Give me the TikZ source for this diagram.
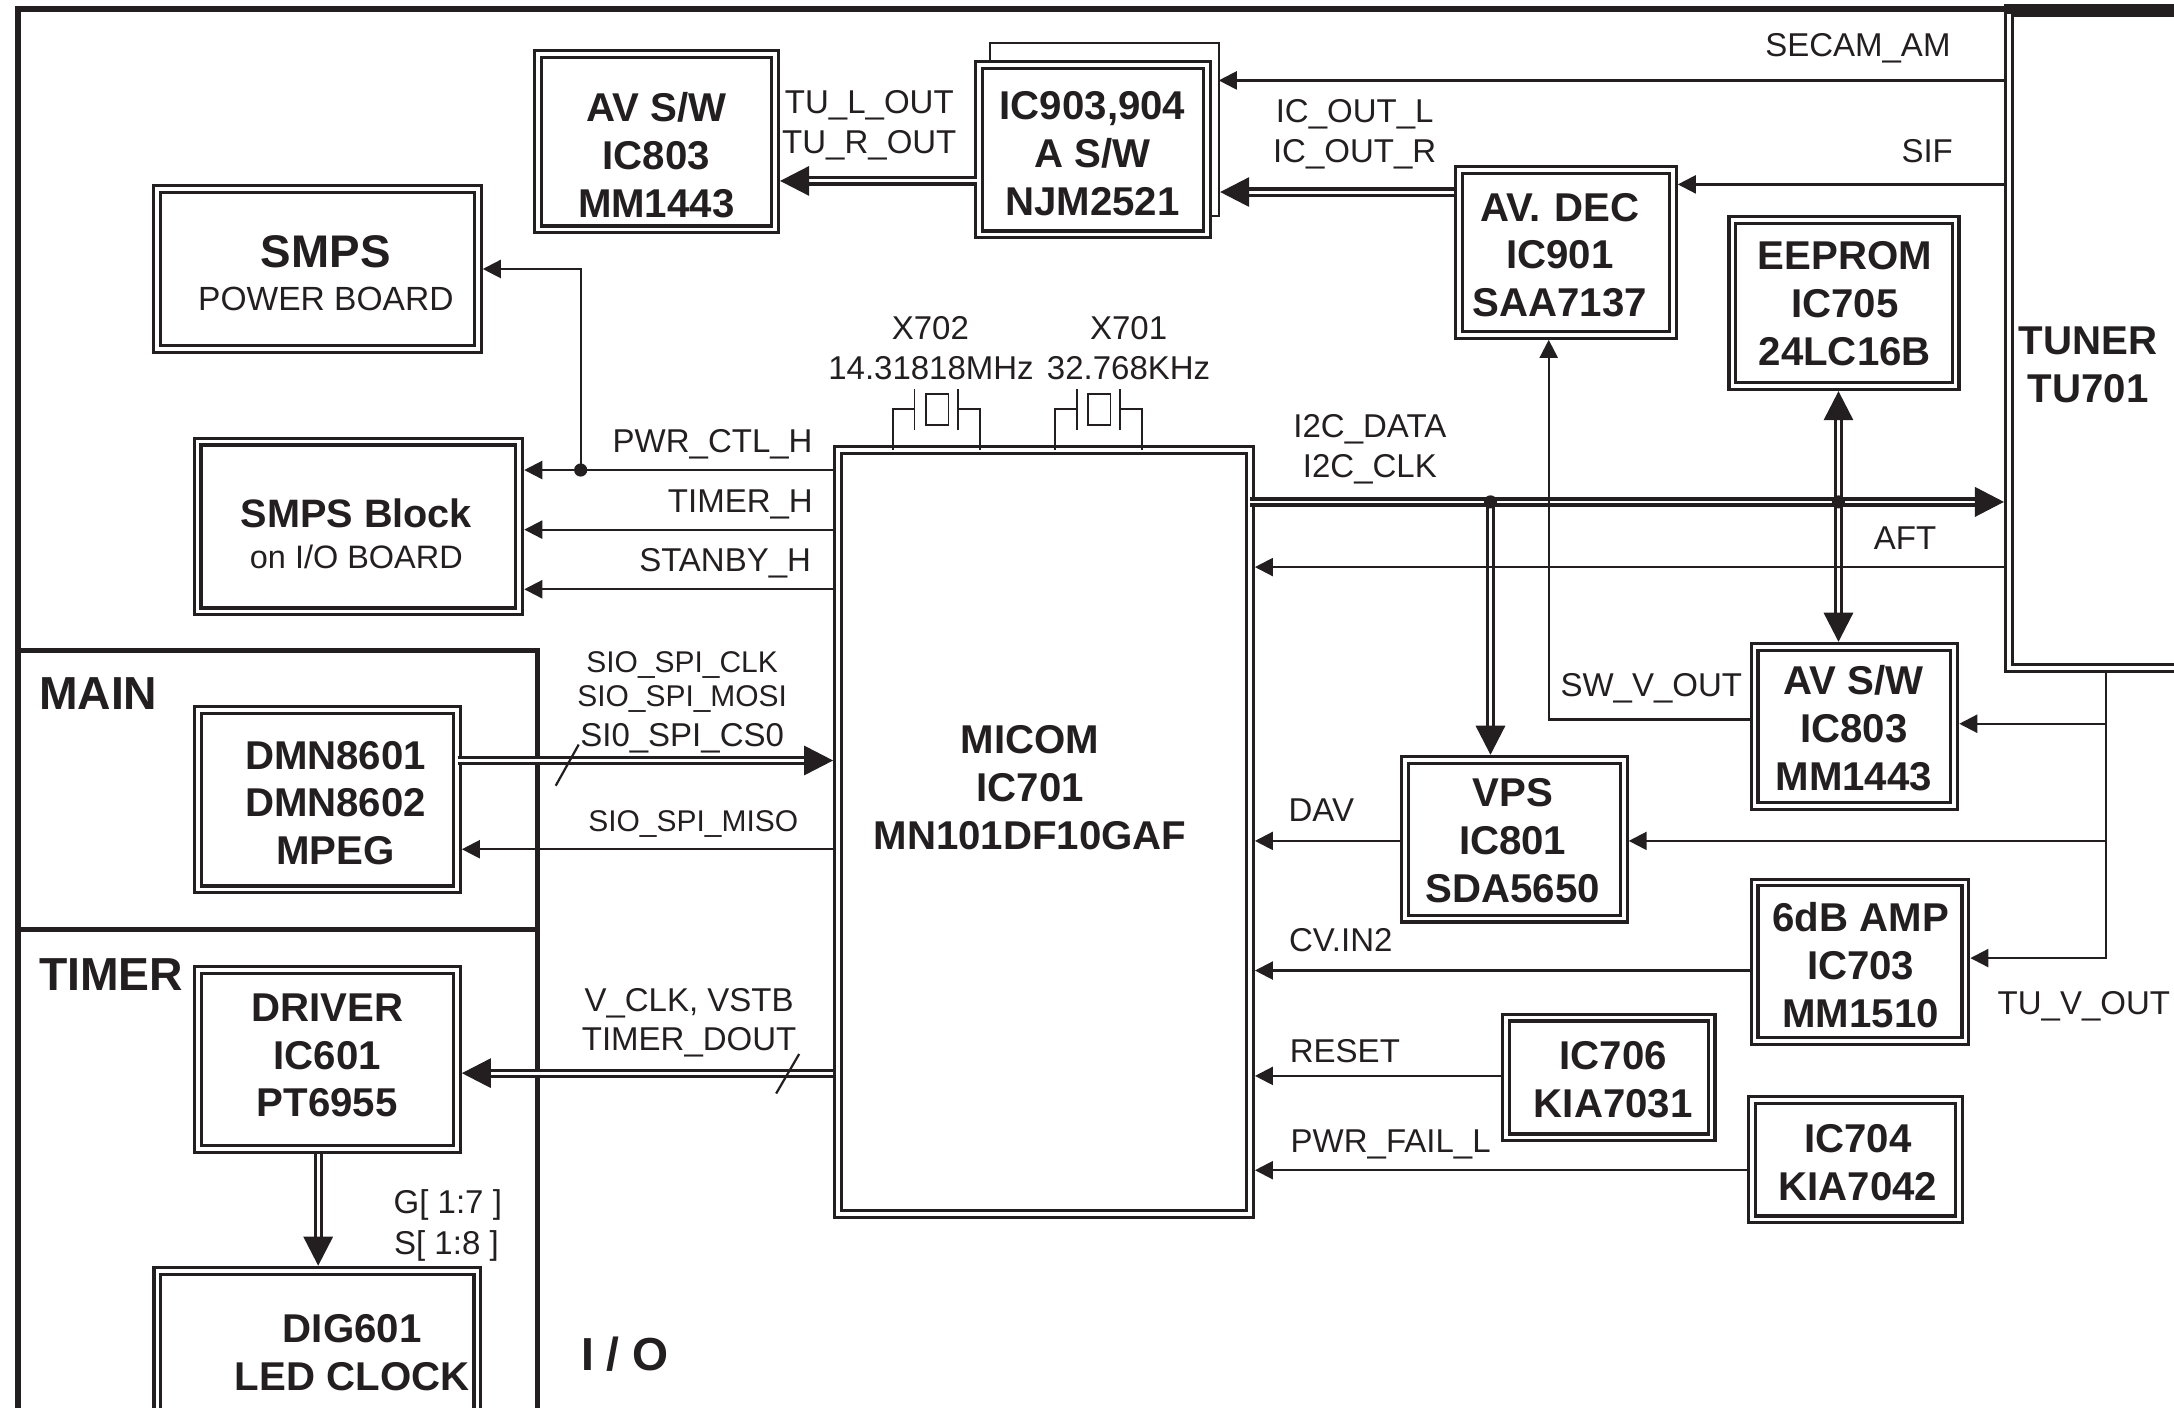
\documentclass[tikz,border=0pt]{standalone}
\usepackage{fontspec}
\setmainfont{Liberation Sans}
\usetikzlibrary{arrows.meta}
\definecolor{ink}{HTML}{231F20}
\tikzset{
  dbox/.style={draw=ink,double=white,line width=2.3pt,double distance=2.6pt,outer sep=3.6pt,inner sep=0pt,rectangle},
  btext/.style={text=ink,inner sep=0pt,align=center,font=\bfseries\fontsize{29}{34.5}\selectfont},
  lab/.style={text=ink,inner sep=0pt,text height=17.05pt,text depth=0pt,font=\fontsize{23.8}{28}\selectfont},
  labs/.style={text=ink,inner sep=0pt,text height=15.5pt,text depth=0pt,font=\fontsize{21.6}{26}\selectfont},
  sig/.style={draw=ink,line width=1.6pt,-{Triangle[length=13pt,width=13pt,fill=ink]}},
  plain/.style={draw=ink,line width=1.6pt},
  fine/.style={draw=ink,line width=1.2pt},
  bus/.style={draw=ink,double=white,line width=2.2pt,double distance=2.2pt,-{Triangle[length=21pt,width=21pt,fill=ink]}},
  bibus/.style={draw=ink,double=white,line width=2.2pt,double distance=2.2pt,{Triangle[length=21pt,width=21pt,fill=ink]}-{Triangle[length=21pt,width=21pt,fill=ink]}},
  heavy/.style={draw=ink,line width=3.6pt},
  dotn/.style={circle,fill=ink,inner sep=0pt,minimum size=9.5pt},
  headtxt/.style={text=ink,inner sep=0pt,anchor=west,font=\bfseries\fontsize{33.4}{36}\selectfont},
}
\newcommand{\ibox}[8]{%
  \node[dbox,minimum width={#4-#2-7},minimum height={#5-#3-7}] (#1) at ({(#2+#4)/2},{(#3+#5)/2}) {};
  \node[btext] (#1-t) at (#6,#7) {#8};}
\begin{document}
\begin{tikzpicture}[x=1pt,y=-1pt]
\useasboundingbox (0,0) rectangle (1568,1014.8);
\clip (0,0) rectangle (1568,1014.8);
% frames
\draw[draw=ink,line width=4.6pt] (1450,6.7) -- (13,6.7) -- (13,1025);
\draw[heavy] (13,469.5) -- (388,469.5) -- (388,1025);
\draw[heavy] (13,670.5) -- (388,670.5);
\node[headtxt] (main) at (28,500) {MAIN};
\node[headtxt] (timer) at (28,703) {TIMER};
\node[headtxt] (io) at (419,977) {I / O};
% boxes
\draw[fine] (714,43.3) -- (714,31) -- (879,31) -- (879,156) -- (872,156);
\ibox{avtop}{384.5}{35.6}{562.5}{169}{473.3}{112.1}{AV S/W\\IC803\\MM1443}
\ibox{asw}{702.5}{43.3}{874}{172.6}{788}{111}{IC903,904\\A S/W\\NJM2521}
\node[dbox,minimum width=231.2,minimum height=115.6] (smps) at (229,194.1) {};
\node[text=ink,inner sep=0pt,align=center,font=\fontsize{24.2}{31}\selectfont] (smps-t) at (235,197) {{\bfseries\fontsize{33}{31}\selectfont SMPS}\\POWER BOARD};
\node[dbox,minimum width=232,minimum height=122.5] (block) at (258.5,379.7) {};
\node[text=ink,inner sep=0pt,align=center,font=\fontsize{23.4}{29}\selectfont] (block-t) at (257,385) {{\bfseries\fontsize{28.6}{29}\selectfont SMPS Block}\\on I/O BOARD};
\ibox{micom}{601}{321}{905}{879}{743}{568}{MICOM\\IC701\\MN101DF10GAF}
\ibox{avdec}{1049}{119}{1210}{245}{1125}{184}{AV.\kern2pt\ DEC\\IC901\\SAA7137}
\ibox{eeprom}{1246}{155}{1414}{282}{1330.5}{219}{EEPROM\\IC705\\24LC16B}
\ibox{tuner}{1445.5}{5}{1590}{485.5}{1506}{263}{TUNER\\TU701}
\draw[draw=ink,line width=7pt] (tuner.north west |- 0,6.5) -- (1575,6.5);
\ibox{avsw}{1262}{463}{1413}{585}{1337}{525}{AV S/W\\IC803\\MM1443}
\ibox{vps}{1010}{544.5}{1174.6}{666}{1091}{606.2}{VPS\\IC801\\SDA5650}
\ibox{amp}{1262}{633}{1421}{754.4}{1342}{696}{6dB AMP\\IC703\\MM1510}
\ibox{rst}{1082.6}{730.4}{1238}{823.8}{1163.5}{778.5}{IC706\\KIA7031}
\ibox{pf}{1260}{790}{1416.6}{883}{1340}{838.5}{IC704\\KIA7042}
\ibox{dmn}{139.2}{508.6}{333}{645}{242}{579.2}{DMN8601\\DMN8602\\MPEG}
\ibox{drv}{139.2}{696}{333}{832}{236}{761.2}{DRIVER\\IC601\\PT6955}
\ibox{dig}{110}{913}{347.8}{1030}{254}{975.6}{DIG601\\LED CLOCK}
% named junction points
\coordinate (c-j) at (418.8,339);
\coordinate (j1) at (1075,362);
\coordinate (j2) at (1326,362);
\coordinate (tap) at (1519,485.5);
\coordinate (bk1) at (879,58);
\coordinate (bk2) at (880,138.5);
% top connectors
\draw[sig] (tuner.west |- 0,58) -- (bk1);
\draw[sig] (tuner.west |- 0,133) -- (avdec.east |- 0,133);
\draw[bus] (avdec.west |- 0,138.5) -- (bk2);
\draw[bus] ([xshift=2pt]asw.west |- 0,130.5) -- (avtop.east |- 0,130.5);
% I2C
\draw[bus,line width=2.6pt,double distance=1.5pt] ([xshift=-3.5pt]micom.east |- j1) -- (tuner.west |- j1);
\draw[bus] (j1) -- (vps.north -| j1);
\draw[bibus] (eeprom.south -| j2) -- (avsw.north -| j2);
% right side
\draw[sig] (tuner.west |- 0,409) -- (micom.east |- 0,409);
\draw[sig] (vps.west |- 0,606.5) -- (micom.east |- 0,606.5);
\draw[sig] (amp.west |- 0,700) -- (micom.east |- 0,700);
\draw[sig] (rst.west |- 0,776) -- (micom.east |- 0,776);
\draw[sig] (pf.west |- 0,844) -- (micom.east |- 0,844);
\draw[sig] (avsw.west |- 0,519) -- (1117,519) -- (avdec.south -| 1117,0);
\draw[sig] (tuner.south -| tap) -- (1519,691) -- (amp.east |- 0,691);
\draw[sig] (1519,522) -- (avsw.east |- 0,522);
\draw[sig] (1519,606.5) -- (vps.east |- 0,606.5);
% left side
\draw[sig] (micom.west |- c-j) -- (block.east |- c-j);
\draw[sig] (c-j) -- (418.8,194) -- (smps.east |- 0,194);
\draw[sig] (micom.west |- 0,382) -- (block.east |- 0,382);
\draw[sig] (micom.west |- 0,425) -- (block.east |- 0,425);
\draw[bus] ([xshift=-3pt]dmn.east |- 0,548.5) -- (micom.west |- 0,548.5);
\draw[sig] (micom.west |- 0,612.5) -- (dmn.east |- 0,612.5);
\draw[bus] (micom.west |- 0,774) -- (drv.east |- 0,774);
\draw[bus] (drv.south -| 229.5,0) -- (dig.north -| 229.5,0);
\draw[plain] (417.4,537) -- (400.8,566.7);
\draw[plain] (576.4,760.2) -- (559.8,788.7);
% junction dots
\node[dotn] (j0d) at (c-j) {};
\node[dotn] (j1d) at (j1) {};
\node[dotn] (j2d) at (j2) {};
% crystals
\draw[fine] (644,324.6) -- (644,295) -- (659.5,295) (659.5,280.8) -- (659.5,310)
  (691,280.8) -- (691,310) (691,295) -- (707,295) -- (707,324.6)
  (668,284) rectangle (684,306.5);
\draw[fine] (761,324.6) -- (761,295) -- (776.8,295) (776.8,280.8) -- (776.8,310)
  (808,280.8) -- (808,310) (808,295) -- (823.5,295) -- (823.5,324.6)
  (784.7,284) rectangle (801,306.5);
% labels
\node[lab] (l1) at (1340,32) {SECAM\_AM};
\node[lab] (l2) at (1390,109) {SIF};
\node[lab] (l3) at (627,73) {TU\_L\_OUT};
\node[lab] (l4) at (627,102) {TU\_R\_OUT};
\node[lab] (l5) at (977,80) {IC\_OUT\_L};
\node[lab] (l6) at (977,109) {IC\_OUT\_R};
\node[lab] (l7) at (671,236) {X702};
\node[lab] (l8) at (671.5,265) {14.31818MHz};
\node[lab] (l9) at (814,236) {X701};
\node[lab] (l10) at (814,265) {32.768KHz};
\node[lab] (l11) at (514,318) {PWR\_CTL\_H};
\node[lab] (l12) at (534,361) {TIMER\_H};
\node[lab] (l13) at (523,404) {STANBY\_H};
\node[lab] (l14) at (988,307) {I2C\_DATA};
\node[lab] (l15) at (988,336) {I2C\_CLK};
\node[lab] (l16) at (1374,388) {AFT};
\node[lab] (l17) at (1191,494) {SW\_V\_OUT};
\node[labs] (l18) at (492,477) {SIO\_SPI\_CLK};
\node[labs] (l19) at (492,502) {SIO\_SPI\_MOSI};
\node[lab] (l20) at (492,530) {SI0\_SPI\_CS0};
\node[labs] (l21) at (500,592) {SIO\_SPI\_MISO};
\node[lab] (l22) at (953,584) {DAV};
\node[lab] (l23) at (967,678) {CV.IN2};
\node[lab] (l24) at (970,758) {RESET};
\node[lab] (l25) at (1003,823) {PWR\_FAIL\_L};
\node[lab] (l26) at (497,721) {V\_CLK, VSTB};
\node[lab] (l27) at (497,749) {TIMER\_DOUT};
\node[lab] (l28) at (323,867) {G[ 1:7 ]};
\node[lab] (l29) at (322,896) {S[ 1:8 ]};
\node[lab] (l30) at (1503,723) {TU\_V\_OUT};
\end{tikzpicture}
\end{document}
